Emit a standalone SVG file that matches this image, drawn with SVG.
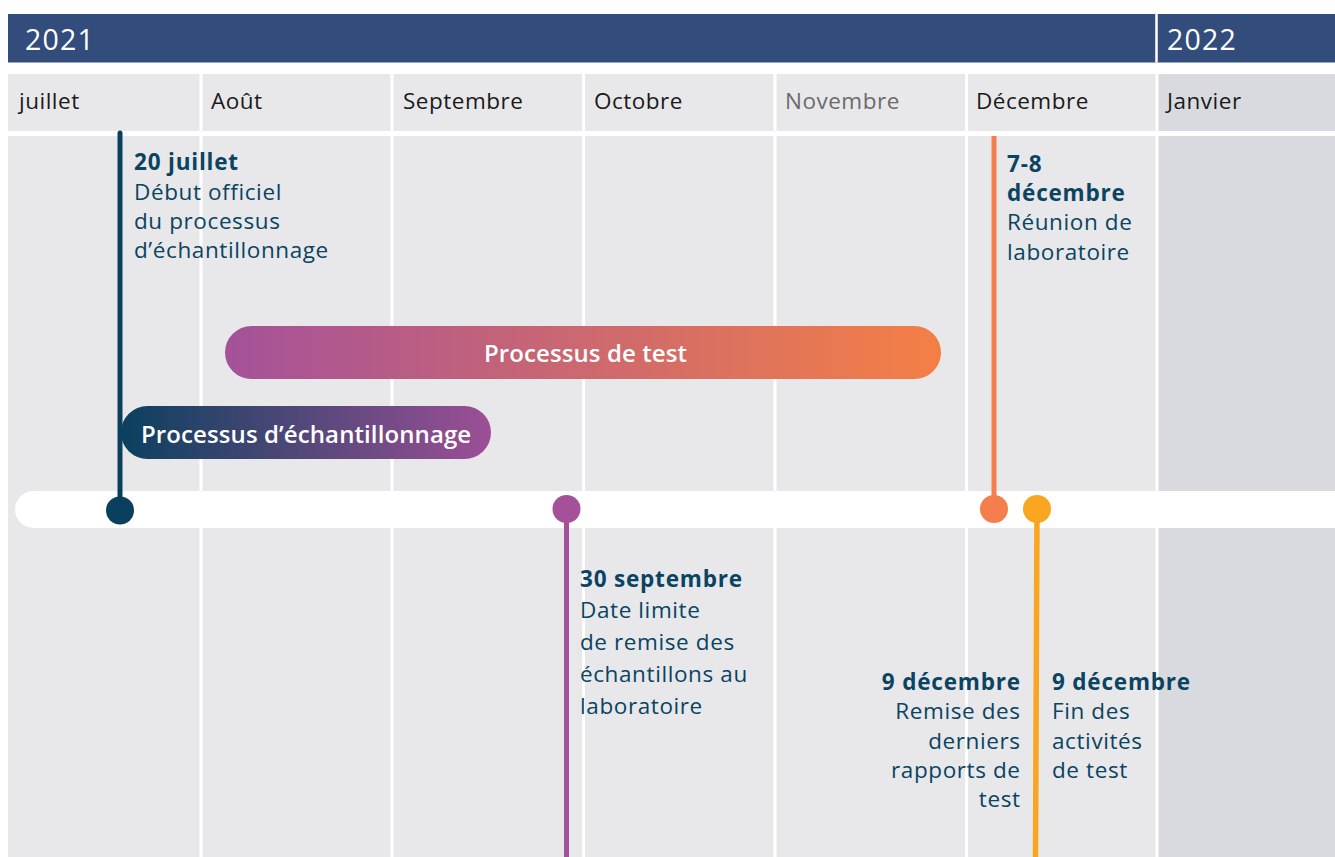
<svg xmlns="http://www.w3.org/2000/svg" width="1335" height="857" viewBox="0 0 1335 857">
<defs>
<linearGradient id="gTest" x1="0" y1="0" x2="1" y2="0">
<stop offset="0" stop-color="#a4519a"/>
<stop offset="1" stop-color="#f47f45"/>
</linearGradient>
<linearGradient id="gSample" x1="0" y1="0" x2="1" y2="0">
<stop offset="0" stop-color="#0b405e"/>
<stop offset="1" stop-color="#9d4f96"/>
</linearGradient>
<style>
.year{font-family:"Open Sans","Noto Sans",sans-serif;font-size:28.5px;letter-spacing:1.2px;fill:#ffffff}
.month{font-family:"Open Sans","Noto Sans",sans-serif;font-size:22.5px;letter-spacing:0.5px;fill:#1a1a1a}
.grey{fill:#6b6b6b}
.b{font-family:"Open Sans","Noto Sans",sans-serif;font-size:22.5px;font-weight:700;letter-spacing:0.8px;fill:#0a4460}
.t{font-family:"Open Sans","Noto Sans",sans-serif;font-size:22.5px;letter-spacing:0.6px;fill:#0a4460}
.pill{font-family:"Open Sans","Noto Sans",sans-serif;font-size:24px;font-weight:600;letter-spacing:0.1px;fill:#ffffff}
.sep{stroke:#ffffff;stroke-width:3}
</style>
</defs>
<rect width="1335" height="857" fill="#ffffff"/>
<g id="years">
<rect x="8" y="14" width="1327" height="48.5" fill="#324c7b"/>
<line x1="1156.5" y1="14" x2="1156.5" y2="62.5" stroke="#ffffff" stroke-width="2.5"/>
<text class="year" x="25" y="50">2021</text>
<text class="year" x="1167" y="50">2022</text>
</g>
<g id="grid">
<rect x="8" y="74" width="1327" height="57" fill="#e8e8eb"/>
<rect x="8" y="136" width="1327" height="721" fill="#e8e8eb"/>
<rect x="1157" y="74" width="178" height="57" fill="#d9dadf"/>
<rect x="1157" y="136" width="178" height="721" fill="#d9dadf"/>
<line class="sep" x1="201" y1="74" x2="201" y2="857"/>
<line class="sep" x1="392" y1="74" x2="392" y2="857"/>
<line class="sep" x1="583.5" y1="74" x2="583.5" y2="857"/>
<line class="sep" x1="775" y1="74" x2="775" y2="857"/>
<line class="sep" x1="966.5" y1="74" x2="966.5" y2="857"/>
<line class="sep" x1="1157" y1="74" x2="1157" y2="857"/>
</g>
<g id="months">
<text class="month" x="19" y="109">juillet</text>
<text class="month" x="211" y="109">Août</text>
<text class="month" x="403" y="109">Septembre</text>
<text class="month" x="594" y="109">Octobre</text>
<text class="month grey" x="785" y="109">Novembre</text>
<text class="month" x="976" y="109">Décembre</text>
<text class="month" x="1167" y="109">Janvier</text>
</g>
<g id="timeline">
<rect x="15" y="491" width="1345" height="37" rx="18.5" fill="#ffffff"/>
</g>
<g id="bar-test">
<rect x="225" y="326" width="716" height="53" rx="26.5" fill="url(#gTest)"/>
<text class="pill" x="585.5" y="362" text-anchor="middle">Processus de test</text>
</g>
<g id="bar-sampling">
<rect x="121" y="406" width="370" height="53" rx="26.5" fill="url(#gSample)"/>
<text class="pill" x="141" y="443">Processus d’échantillonnage</text>
</g>
<g id="connectors">
<line x1="120" y1="133" x2="120" y2="510" stroke="#0a3f5e" stroke-width="5" stroke-linecap="round"/>
<line x1="566.5" y1="509" x2="566.5" y2="857" stroke="#a4519a" stroke-width="5"/>
<line x1="994" y1="136" x2="994" y2="509" stroke="#f47f4c" stroke-width="5"/>
<line x1="1037" y1="509" x2="1035.5" y2="857" stroke="#f9a51f" stroke-width="5.5"/>
</g>
<g id="m-jul20">
<circle cx="120" cy="510.5" r="14" fill="#0a3f5e"/>
<text class="b" x="134" y="170">20 juillet</text>
<text class="t" x="134" y="200">Début officiel</text>
<text class="t" x="134" y="229">du processus</text>
<text class="t" x="134" y="258">d’échantillonnage</text>
</g>
<g id="m-sep30">
<circle cx="566.5" cy="509" r="14" fill="#a4519a"/>
<text class="b" x="580" y="587">30 septembre</text>
<text class="t" x="580" y="618">Date limite</text>
<text class="t" x="580" y="650">de remise des</text>
<text class="t" x="580" y="682">échantillons au</text>
<text class="t" x="580" y="714">laboratoire</text>
</g>
<g id="m-dec7">
<circle cx="994" cy="509" r="14" fill="#f47f4c"/>
<text class="b" x="1007" y="172">7-8</text>
<text class="b" x="1007" y="201">décembre</text>
<text class="t" x="1007" y="230">Réunion de</text>
<text class="t" x="1007" y="260">laboratoire</text>
</g>
<g id="m-dec9-reports">
<text class="b" x="1020.8" y="690" text-anchor="end">9 décembre</text>
<text class="t" x="1020.6" y="719" text-anchor="end">Remise des</text>
<text class="t" x="1020.6" y="748.5" text-anchor="end">derniers</text>
<text class="t" x="1020.6" y="777.5" text-anchor="end">rapports de</text>
<text class="t" x="1020.6" y="806.5" text-anchor="end">test</text>
</g>
<g id="m-dec9-end">
<circle cx="1037" cy="509" r="14" fill="#f9a51f"/>
<text class="b" x="1052" y="690">9 décembre</text>
<text class="t" x="1052" y="719">Fin des</text>
<text class="t" x="1052" y="748.5">activités</text>
<text class="t" x="1052" y="777.5">de test</text>
</g>
</svg>
